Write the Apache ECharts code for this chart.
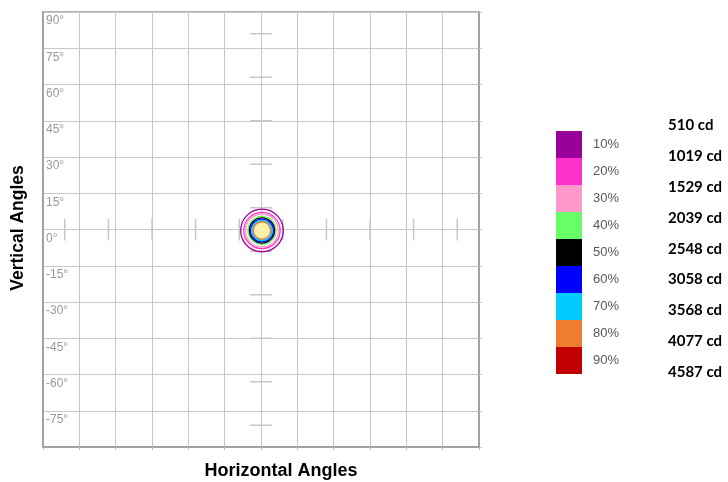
<!DOCTYPE html>
<html>
<head>
<meta charset="utf-8">
<script src="https://cdn.jsdelivr.net/npm/echarts@6/dist/echarts.min.js"></script>
<style>html,body{margin:0;padding:0;background:#fff}#c{width:728px;height:482px}</style>
</head>
<body>
<div id="c"></div>
<script>
// ---- data ----
var levelLabels = ['10%','20%','30%','40%','50%','60%','70%','80%','90%'];
var levelColors = ['#990099','#ff33cc','#ff99cc','#66ff66','#000000','#0000ff','#00ccff','#ed7d31','#c00000'];
var candelaLabels = ['510 cd','1019 cd','1529 cd','2039 cd','2548 cd','3058 cd','3568 cd','4077 cd','4587 cd'];
// iso-contour radii (degrees), per level (90% not visible)
var ringRadii = [8.8, 7.5, 6.8, 5.8, 5.2, 4.7, 4.2, 3.6, null];
var ringCenter = [0.4, -0.4];
// gray reference marks along both center axes (degrees)
var markVals = [-81, -63, -45, -27, -9, 9, 27, 45, 63, 81];
var axisMin = -90, axisMax = 90, axisStep = 15;

// ---- build ----
var ringData = [];
for (var i = 0; i < ringRadii.length; i++) {
  if (ringRadii[i] != null) ringData.push([ringCenter[0], ringCenter[1], ringRadii[i], i]);
}
var markData = [];
markVals.forEach(function (v) { markData.push([0, v, 0]); markData.push([v, 0, 1]); });

var graphics = [];
levelLabels.forEach(function (lab, i) {
  graphics.push({type:'rect', left:556, top:131 + i*27, shape:{width:26, height:27}, style:{fill:levelColors[i]}});
  graphics.push({type:'text', left:593, top:131 + i*27 + 7, style:{text:lab, fill:'#595959', font:'13px "Liberation Sans", Arial, sans-serif'}});
});
candelaLabels.forEach(function (lab, i) {
  graphics.push({type:'text', left:668, top:118 + i*30.8, style:{text:lab, fill:'#000', font:'bold 15px Lato, "Open Sans", sans-serif'}});
});
graphics.push({type:'text', x:281, y:462, style:{text:'Horizontal Angles', fill:'#000', align:'center', font:'bold 18px "Liberation Sans", Arial, sans-serif'}});
graphics.push({type:'text', x:9, y:228, rotation:Math.PI/2, style:{text:'Vertical Angles', fill:'#000', align:'center', font:'bold 17.5px "Liberation Sans", Arial, sans-serif'}});

var chart = echarts.init(document.getElementById('c'), null, {renderer:'canvas'});
chart.setOption({
  animation:false,
  grid:{left:43, top:12, width:436, height:435, show:true, borderColor:'#999', borderWidth:1.5},
  xAxis:{type:'value', min:axisMin, max:axisMax, interval:axisStep,
    axisLabel:{show:false}, axisTick:{show:true, length:3, lineStyle:{color:'#bbb'}},
    axisLine:{show:true, onZero:false, lineStyle:{color:'#999', width:1.5}},
    splitLine:{show:true, lineStyle:{color:'#c8c8c8', width:1}}},
  yAxis:[{type:'value', min:axisMin, max:axisMax, interval:axisStep,
    axisLabel:{show:true, inside:true, margin:3, verticalAlign:'top', padding:[3,0,0,0],
      color:'#999', fontSize:12, fontFamily:'"Liberation Sans", Arial, sans-serif',
      formatter:function(v){ return v === axisMin ? '' : v + '°'; }},
    axisTick:{show:false}, axisLine:{show:true, onZero:false, lineStyle:{color:'#999', width:1.5}},
    splitLine:{show:true, lineStyle:{color:'#c8c8c8', width:1}}},
    {type:'value', position:'right', min:axisMin, max:axisMax, interval:axisStep,
    axisLabel:{show:false}, axisTick:{show:true, length:3, lineStyle:{color:'#c8c8c8'}},
    axisLine:{show:true, onZero:false, lineStyle:{color:'#999', width:1.5}}, splitLine:{show:false}}],
  graphic: graphics,
  series:[
    {type:'custom', name:'marks', data:markData, silent:true,
      renderItem:function(params, api){
        var x = api.value(0), y = api.value(1), o = api.value(2), h = 4.5;
        var p1 = o === 0 ? api.coord([x - h, y]) : api.coord([x, y - h]);
        var p2 = o === 0 ? api.coord([x + h, y]) : api.coord([x, y + h]);
        return {type:'line', shape:{x1:p1[0], y1:p1[1], x2:p2[0], y2:p2[1]}, style:{stroke:'#c8c8c8', lineWidth:1.5}};
      }},
    {type:'custom', name:'rings', data:ringData, silent:true,
      renderItem:function(params, api){
        var c = api.coord([api.value(0), api.value(1)]);
        var s = api.size([api.value(2), api.value(2)]);
        var idx = api.value(3);
        var fill = idx === 7 ? '#fdf0a8' : (idx === 6 ? '#9fb0f0' : 'none');
        return {type:'circle', shape:{cx:c[0], cy:c[1], r:(s[0]+s[1])/2},
          style:{stroke:levelColors[idx], fill:fill, lineWidth:1.3}};
      }}
  ]
});
</script>
</body>
</html>
